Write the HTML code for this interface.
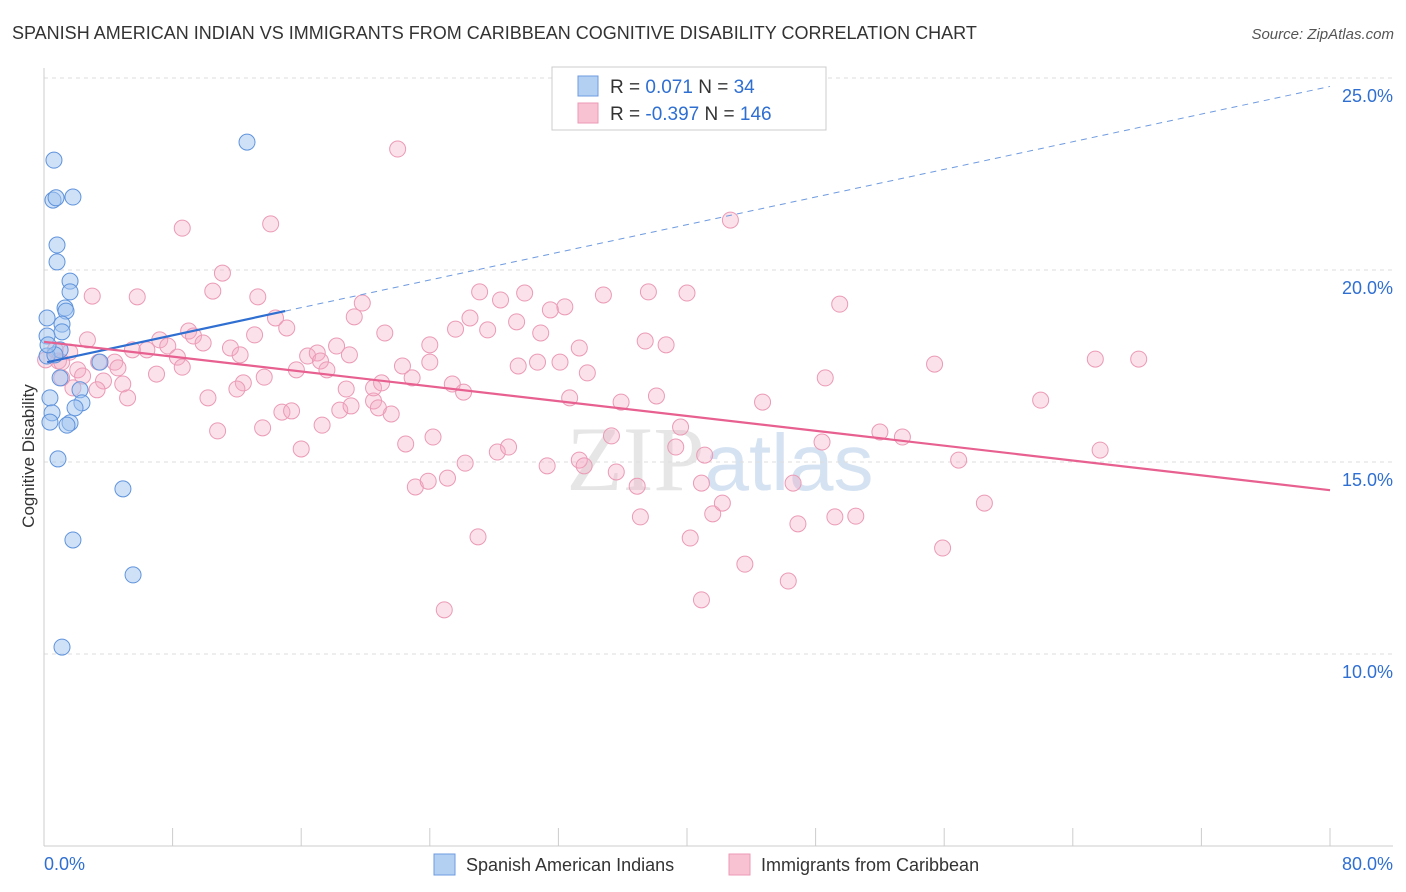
<!DOCTYPE html>
<html><head><meta charset="utf-8"><style>
body{margin:0;background:#fff;font-family:"Liberation Sans",sans-serif;}
svg{display:block}
</style></head><body>
<svg id="chart" width="1406" height="892" xmlns="http://www.w3.org/2000/svg">
<text x="12" y="39" font-size="18" fill="#333">SPANISH AMERICAN INDIAN VS IMMIGRANTS FROM CARIBBEAN COGNITIVE DISABILITY CORRELATION CHART</text>
<text x="1394" y="39" font-size="15" fill="#555" text-anchor="end" font-style="italic">Source: ZipAtlas.com</text>
<text x="720" y="490" font-size="92" text-anchor="middle" fill="#e6e6e6"><tspan font-family="Liberation Serif">ZIP</tspan><tspan fill="#d5e2f2" font-size="80">atlas</tspan></text>
<g id="grid"></g><g id="axes"></g><g id="pts"></g><g id="trend"></g>
<text transform="translate(34,456) rotate(-90)" font-size="17" fill="#333" text-anchor="middle">Cognitive Disability</text>
<g>
<rect x="552" y="67" width="274" height="63" fill="#fff" stroke="#ccc"/>
<rect x="578" y="76" width="20" height="20" fill="#b3d0f3" stroke="#6c9be0"/>
<rect x="578" y="103" width="20" height="20" fill="#f8c2d3" stroke="#ec9ab6"/>
<text x="610" y="93" font-size="19" fill="#333">R = <tspan fill="#2f6fd1">  0.071</tspan>   N = <tspan fill="#2f6fd1"> 34</tspan></text>
<text x="610" y="120" font-size="19" fill="#333">R = <tspan fill="#2f6fd1">-0.397</tspan>   N = <tspan fill="#2f6fd1">146</tspan></text>
</g>
<g>
<rect x="434" y="854" width="21" height="21" fill="#b3d0f3" stroke="#6c9be0"/>
<text x="466" y="871" font-size="18" fill="#333">Spanish American Indians</text>
<rect x="729" y="854" width="21" height="21" fill="#f8c2d3" stroke="#ec9ab6"/>
<text x="761" y="871" font-size="18" fill="#333">Immigrants from Caribbean</text>
</g>
</svg>
<script>
const yTicks=[10,15,20,25];
const yTickLabels=["10.0%","15.0%","20.0%","25.0%"];
const xTicks=[0,8,16,24,32,40,48,56,64,72,80];
const xEndLabels=["0.0%","80.0%"];
const blueX=[0.62,0.56,0.75,1.80,0.81,0.81,1.62,1.62,1.31,1.37,1.12,1.12,0.19,0.19,1.0,0.19,3.48,1.0,2.24,2.36,0.37,1.93,0.5,0.37,1.62,1.43,0.87,4.91,1.80,5.54,1.12,12.63,0.68,0.25];
const blueY=[22.86,21.82,21.88,21.90,20.65,20.21,19.71,19.43,19.01,18.93,18.59,18.39,18.75,18.28,17.92,17.76,17.60,17.19,16.88,16.54,16.67,16.41,16.28,16.04,16.02,15.96,15.08,14.30,12.97,12.06,10.18,23.33,17.79,18.05];
const pinkX=[22.0,42.7,8.6,14.1,11.1,3.0,5.8,10.5,13.3,19.8,27.1,28.4,29.9,32.4,31.5,34.8,37.6,40.0,49.5,19.3,14.4,15.1,9.0,9.3,21.2,25.6,26.5,27.6,29.4,30.9,37.4,38.7,2.7,0.7,1.6,3.4,4.4,5.5,6.4,7.2,7.7,8.3,9.9,11.6,13.1,16.4,17.0,18.2,17.2,17.6,15.7,13.7,12.4,12.0,8.6,7.0,4.6,2.1,2.4,0.9,1.1,1.8,3.7,4.9,5.2,10.2,10.8,13.6,14.8,15.4,16.0,17.3,18.4,19.1,18.8,20.5,20.5,21.0,21.6,20.8,22.3,22.9,24.0,25.4,26.1,22.5,24.2,23.1,23.9,25.1,26.2,28.2,28.9,27.0,24.9,29.5,30.7,32.1,33.8,32.7,35.3,33.3,33.6,31.3,35.6,36.9,37.1,35.9,38.1,39.3,39.6,41.1,40.9,40.2,41.6,42.2,40.9,43.6,46.3,46.9,44.7,46.6,48.4,48.6,49.2,50.5,52.0,53.4,55.9,56.9,58.5,55.4,62.0,65.4,68.1,65.7,0.1,1.1,3.3,12.2,19.0,24.0,33.3];
const pinkY=[23.15,21.30,21.09,21.20,19.92,19.32,19.30,19.45,19.30,19.14,19.43,19.22,19.40,19.04,18.96,19.35,19.43,19.40,19.11,18.78,18.75,18.49,18.41,18.28,18.36,18.46,18.75,18.44,18.65,18.36,18.15,18.05,18.18,17.92,17.86,17.60,17.60,17.92,17.92,18.18,18.02,17.73,18.10,17.97,18.31,17.76,17.84,18.02,17.63,17.40,17.40,17.21,17.06,16.90,17.47,17.29,17.45,17.40,17.24,17.63,17.19,16.93,17.11,17.03,16.67,16.67,15.81,15.89,16.30,16.33,15.34,15.96,16.35,16.46,16.90,16.59,16.93,17.06,16.25,16.41,17.50,17.19,17.60,17.03,16.82,15.47,15.65,14.35,14.50,14.58,14.97,15.26,15.39,13.05,11.15,17.50,17.60,17.60,17.32,16.67,15.68,15.05,14.90,14.90,14.74,14.37,13.57,16.56,16.72,15.39,15.91,15.18,14.45,13.02,13.65,13.93,11.41,12.34,11.90,13.39,16.56,14.45,15.52,17.19,13.57,13.59,15.78,15.65,12.76,15.05,13.93,17.55,16.61,17.68,17.68,15.31,17.66,17.60,16.88,17.79,17.79,18.05,17.97];
const blueTrend=[17.58,0.09]; // intercept, slope
const blueSolidEnd=15;
const pinkTrend=[18.13,-0.0483];
const NS="http://www.w3.org/2000/svg";
const X=v=>44+v*(1330-44)/80;
const Y=v=>846-(v-5)*(846-78)/20;
function mk(tag,attrs,parent){const e=document.createElementNS(NS,tag);for(const k in attrs)e.setAttribute(k,attrs[k]);document.getElementById(parent).appendChild(e);return e;}
yTicks.forEach((t,i)=>{
  const l=mk('line',{x1:44,x2:1393,y1:Y(t),y2:Y(t),stroke:'#ddd','stroke-dasharray':'4,4'},'grid');
  
  
  const tx=mk('text',{x:1393,y:Y(t)+24,'font-size':18,fill:'#2f6fd1','text-anchor':'end'},'axes');
  tx.textContent=yTickLabels[i];
  
  
});
const ya=mk('line',{x1:44,x2:44,y1:68,y2:846,stroke:'#ccc'},'axes');


const xa=mk('line',{x1:44,x2:1393,y1:846,y2:846,stroke:'#ccc'},'axes');


xTicks.forEach(t=>{
  const l=mk('line',{x1:X(t),x2:X(t),y1:828,y2:846,stroke:'#ccc'},'axes');
  
  
});
[[0,'start',xEndLabels[0]],[80,'end',xEndLabels[1]]].forEach(([v,a,s])=>{
  const tx=mk('text',{x:v===0?X(v):1393,y:870,'font-size':18,fill:'#2f6fd1','text-anchor':a},'axes');
  tx.textContent=s;
  
  
});
pinkX.forEach((x,i)=>{
  const c=mk('circle',{cx:X(x),cy:Y(pinkY[i]),r:8,fill:'rgba(244,170,195,0.35)',stroke:'#eb9ab6','stroke-width':1},'pts');
  
  
});
blueX.forEach((x,i)=>{
  const c=mk('circle',{cx:X(x),cy:Y(blueY[i]),r:8,fill:'rgba(160,196,240,0.5)',stroke:'#5f93dc','stroke-width':1},'pts');
  
  
});
const bf=x=>blueTrend[0]+blueTrend[1]*x, pf=x=>pinkTrend[0]+pinkTrend[1]*x;
const bd=mk('line',{x1:X(blueSolidEnd),y1:Y(bf(blueSolidEnd)),x2:X(80),y2:Y(bf(80)),stroke:'#6f9be0','stroke-width':1,'stroke-dasharray':'6,5'},'trend');


const bs=mk('line',{x1:X(0.2),y1:Y(bf(0.2)),x2:X(blueSolidEnd),y2:Y(bf(blueSolidEnd)),stroke:'#2f6fd1','stroke-width':2.2},'trend');


const ps=mk('line',{x1:X(0),y1:Y(pf(0)),x2:X(80),y2:Y(pf(80)),stroke:'#e7608f','stroke-width':2.2},'trend');


</script>
</body></html>
